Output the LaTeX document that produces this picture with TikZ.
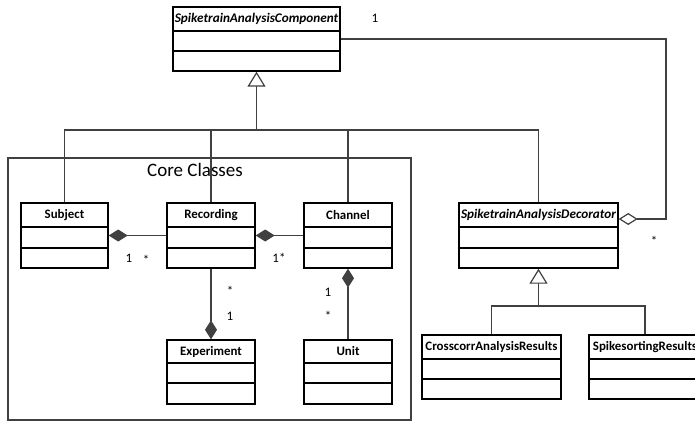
\documentclass[tikz,border=0pt]{standalone}
\usepackage{fontspec}
\setmainfont{Carlito}
\usetikzlibrary{arrows.meta,fit}
\tikzset{
  comptip/.tip={Diamond[length=19pt,width=12pt]},
  aggtip/.tip={Diamond[open,length=19pt,width=12pt,fill=white]},
  gentip/.tip={Triangle[open,length=15pt,width=18pt,fill=white]},
  clsbox/.style={draw=black, line width=1.4pt, inner sep=0pt},
  rowline/.style={draw=black, line width=1.4pt},
  conn/.style={draw=black!75, line width=1.2pt},
  hdr/.style={font=\fontsize{12.9}{14}\selectfont\bfseries, inner sep=0pt},
  ahdr/.style={font=\fontsize{13.2}{14}\selectfont\bfseries\itshape, inner sep=0pt},
  mult/.style={font=\fontsize{13}{15}\selectfont, inner sep=0pt},
}
\newcommand\umlclass[9]{%
  \node[clsbox, fit={(#3,#4) (#5,#6)}] (#1) {};
  \draw[rowline] (#1.west |- 0,#7) -- (#1.east |- 0,#7)
                 (#1.west |- 0,#8) -- (#1.east |- 0,#8);
  \node[#2] (#1-title) at ({(#3+#5)/2},{(#4+#7)/2}) {#9};
}
\begin{document}
\begin{tikzpicture}[x=1pt,y=-1pt]
\clip (0,0) rectangle (695,422);
\fill[white] (0,0) rectangle (695,422);

% core classes package
\node[draw=black!75, line width=1.2pt, inner sep=0pt, fit={(8,158) (411,420)}] (core) {};
\node[font=\fontsize{19}{22}\selectfont, inner sep=0pt] (coretitle) at (195,170) {Core Classes};

\umlclass{top}{ahdr}{173}{7}{340}{71}{31}{51}{SpiketrainAnalysisComponent}
\umlclass{subject}{hdr}{21}{203}{108}{268}{227}{248}{Subject}
\umlclass{recording}{hdr}{167}{203}{255}{268}{227}{248}{Recording}
\umlclass{channel}{hdr}{304}{203}{392}{268}{227}{248}{Channel}
\umlclass{experiment}{hdr}{167}{340}{255}{404}{363}{383}{Experiment}
\umlclass{unit}{hdr}{304}{340}{392}{404}{363}{383}{Unit}
\umlclass{decorator}{ahdr}{459}{203}{618}{268}{227}{248}{SpiketrainAnalysisDecorator}
\umlclass{crosscorr}{hdr}{422}{335}{561}{399}{359}{379}{CrosscorrAnalysisResults}
\umlclass{spikesort}{hdr}{589}{335}{701}{399}{359}{379}{SpikesortingResults}

% generalization to component
\coordinate (bus) at (256,130);
\draw[conn, -{gentip}] (top.south |- bus) -- (top.south);
\draw[conn] (subject.north) -- (subject.north |- bus) -- (decorator.north |- bus) -- (decorator.north);
\draw[conn] (recording.north) -- (recording.north |- bus);
\draw[conn] (channel.north) -- (channel.north |- bus);

% aggregation decorator -> component
\coordinate (aggc) at (666,219);
\draw[conn, {aggtip}-] (decorator.east |- aggc) -- (aggc) |- (top.east);

% generalization to decorator
\coordinate (bus2) at (540,306);
\draw[conn, -{gentip}] (decorator.south |- bus2) -- (decorator.south);
\draw[conn] (crosscorr.north) -- (crosscorr.north |- bus2) -- (spikesort.north |- bus2) -- (spikesort.north);

% compositions
\draw[conn, {comptip}-] (subject.east) -- (recording.west);
\draw[conn, {comptip}-] (recording.east) -- (channel.west);
\draw[conn, -{comptip}] (recording.south) -- (experiment.north);
\draw[conn, {comptip}-] (channel.south) -- (unit.north);

% multiplicities
\node[mult] (m1) at (375,18) {1};
\node[mult] (m2) at (654,241) {*};
\node[mult] (m3) at (129,258) {1};
\node[mult] (m4) at (146,260) {*};
\node[mult] (m5) at (279,258) {1*};
\node[mult] (m6) at (230,291) {*};
\node[mult] (m7) at (230,316) {1};
\node[mult] (m8) at (328,292) {1};
\node[mult] (m9) at (328,316) {*};
\end{tikzpicture}
\end{document}
